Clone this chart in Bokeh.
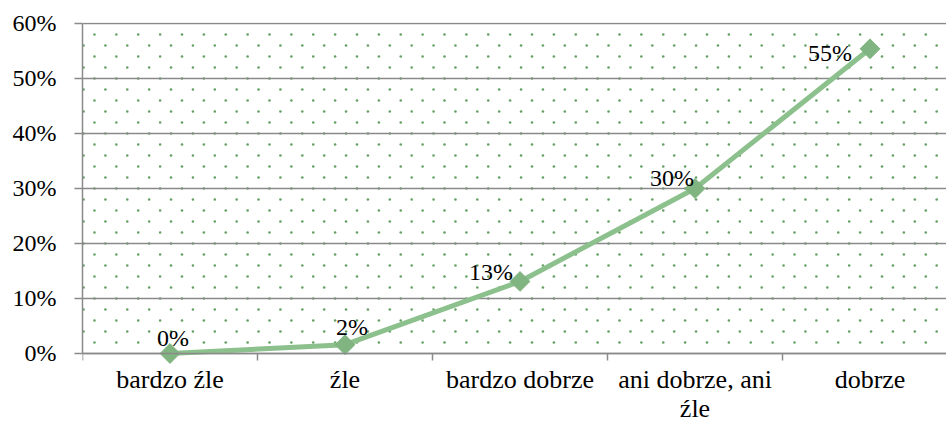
import numpy as np
from bokeh.plotting import figure
from bokeh.models import Range1d, FixedTicker, ColumnDataSource
from bokeh.core.properties import value
from bokeh.embed import file_html
from bokeh.resources import INLINE

# ---- data ----
categories = ["bardzo źle", "źle", "bardzo dobrze", "ani dobrze, ani\nźle", "dobrze"]
percent = [0.0, 1.6, 13.1, 30.0, 55.4]
point_labels = ["0%", "2%", "13%", "30%", "55%"]
y_ticks = [0, 10, 20, 30, 40, 50, 60]

# label placement (screen px relative to point)
label_dx = [3, 7, -29, -23, -40]
label_dy = [-15, -18, -9, -10, 4]

FONT = "Liberation Serif"
GRID = "#8a8a8a"
LINE = "#8cc08c"
MARK = "#80b480"
DOT = "#64a064"

n = len(categories)
idx = list(range(n))
base = [y_ticks[0]] * n

p = figure(frame_width=864, frame_height=402, output_backend="svg", toolbar_location=None,
           x_axis_location="above",
           x_range=Range1d(-0.5, 4.437), y_range=Range1d(-12.91, 60.18),
           min_border_left=82, min_border_right=0, min_border_top=22, min_border_bottom=0)
p.outline_line_color = None
p.background_fill_color = "white"
p.border_fill_color = "white"

# dotted background texture
bx, by = [], []
for k, yy in enumerate(np.arange(2, 60, 2)):
    off = 0.0625 if (k % 2 == 0) else 0.0
    xs = np.arange(-0.5 + 0.006 + off, 4.437, 0.125)
    bx.extend(xs)
    by.extend([yy] * len(xs))
p.scatter(bx, by, size=2.6, marker="circle", fill_color=DOT, line_color=None, level="underlay")

# grid
p.xgrid.grid_line_color = None
p.ygrid.grid_line_color = GRID
p.ygrid.grid_line_width = 1.5
p.ygrid.ticker = FixedTicker(ticks=y_ticks)

# y axis
p.yaxis.ticker = FixedTicker(ticks=y_ticks)
p.yaxis.major_label_overrides = {t: f"{t}%" for t in y_ticks}
p.yaxis.bounds = (0, 60)
p.yaxis.axis_line_color = GRID
p.yaxis.axis_line_width = 1.5
p.yaxis.major_tick_line_color = GRID
p.yaxis.major_tick_line_width = 1.5
p.yaxis.major_tick_out = 8
p.yaxis.major_tick_in = 0
p.yaxis.minor_tick_line_color = None
p.yaxis.major_label_standoff = 18
p.yaxis.major_label_text_font = FONT
p.yaxis.major_label_text_font_size = "24px"
p.yaxis.major_label_text_color = "black"

# x axis: drawn at 0 with category boundary ticks, labels drawn as text below
bounds_ticks = [i - 0.5 for i in idx] + [n - 0.5]
p.xaxis.fixed_location = 0
p.xaxis.ticker = FixedTicker(ticks=bounds_ticks, minor_ticks=[])
p.xaxis.major_label_overrides = {t: "" for t in bounds_ticks}
p.xaxis.major_label_text_font_size = "0px"
p.xaxis.major_label_standoff = 0
p.xaxis.axis_line_color = GRID
p.xaxis.axis_line_width = 1.5
p.xaxis.major_tick_line_color = GRID
p.xaxis.major_tick_line_width = 1.5
p.xaxis.major_tick_out = 0
p.xaxis.major_tick_in = 7
p.xaxis.minor_tick_line_color = None

# category labels
p.text(idx, base, text=categories, y_offset=12,
       text_font=value(FONT), text_font_size="26px", text_color="black",
       text_align="center", text_baseline="top", text_line_height=0.98)

# series
src = ColumnDataSource(dict(x=idx, y=percent, lab=point_labels, dx=label_dx, dy=label_dy))
p.line("x", "y", source=src, line_color=LINE, line_width=5)
p.scatter("x", "y", source=src, marker="square", angle=np.pi / 4, size=14,
          fill_color=MARK, line_color=MARK)
p.text("x", "y", text="lab", source=src, x_offset="dx", y_offset="dy",
       text_font=value(FONT), text_font_size="24px", text_color="black",
       text_align="center", text_baseline="alphabetic")

open("out.html", "w").write(file_html(p, INLINE))
